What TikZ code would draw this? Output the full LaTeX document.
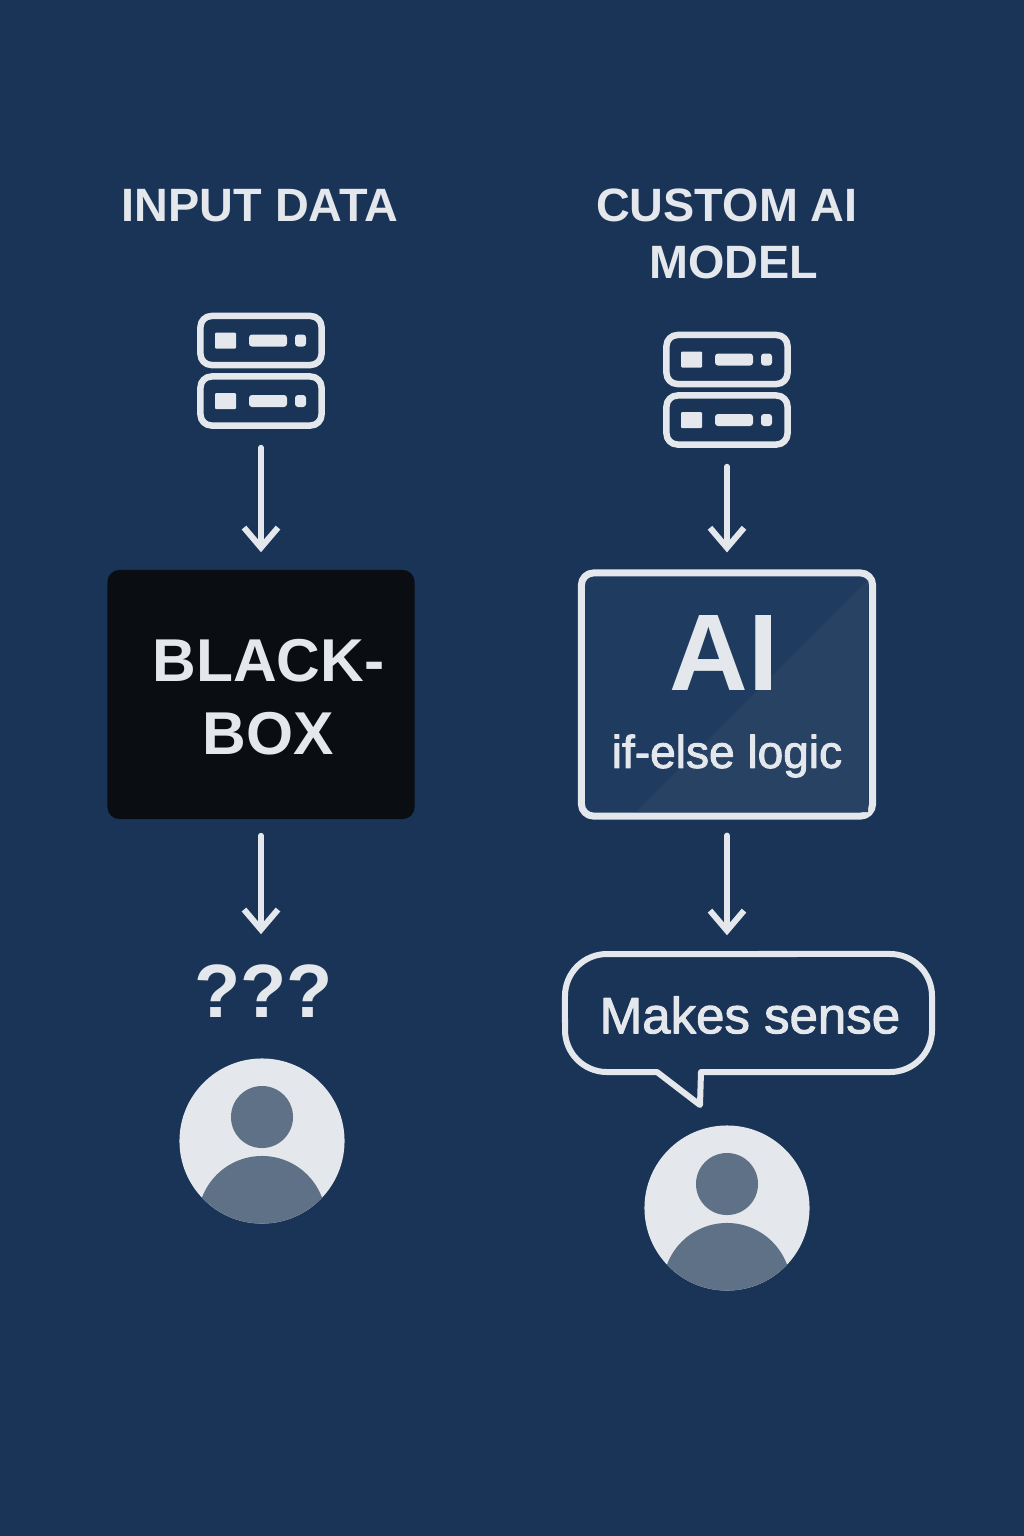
\documentclass[tikz,border=0pt]{standalone}
\usepackage{fontspec}
\setmainfont{Liberation Sans}
\newfontfamily\medfont[FakeBold=2]{Liberation Sans}
\usetikzlibrary{arrows.meta}
\definecolor{bgblue}{HTML}{193456}
\definecolor{lightgr}{HTML}{E4E7EB}
\definecolor{slategr}{HTML}{5F7186}
\definecolor{boxblack}{HTML}{0A0D11}
\definecolor{modelblue}{HTML}{1F3C60}
\definecolor{modeldiag}{HTML}{284263}
\tikzset{
	flow/.style={draw=lightgr,line width=.06cm,-{Straight Barb[length=.2cm,width=.34cm,line width=.06cm]},shorten <=.19cm,shorten >=.17cm},
	srvbox/.style={draw=lightgr,line width=.065cm,rounded corners=.11cm,minimum width=1.21cm,minimum height=.49cm,inner sep=0pt},
	title/.style={text=lightgr,align=center,font=\bfseries\fontsize{13.3}{16}\selectfont},
	pics/server/.style={code={
		\node[srvbox] (-top) at (0,-30.5) {};
		\node[srvbox] (-bot) at (0,30) {};
		\foreach \yy in {-30.5,30}{
			\fill[lightgr,rounded corners=.01cm] (-46,\yy-8) rectangle (-25,\yy+8);
			\fill[lightgr,rounded corners=.03cm] (-12,\yy-6) rectangle (26,\yy+6);
			\fill[lightgr,rounded corners=.03cm] (34,\yy-6) rectangle (45,\yy+6);
		}
	}},
	pics/avatar/.style={code={
		\node[circle,fill=lightgr,minimum size=1.65cm,inner sep=0pt] (-face) at (0,0) {};
		\fill[slategr] (0,-24) circle (.31cm);
		\begin{scope}
			\clip (0,0) circle (.825cm);
			\fill[slategr] (0,79) circle (.64cm);
		\end{scope}
	}}
}
\begin{document}
\begin{tikzpicture}[x=.01cm,y=-.01cm,line join=round,line cap=round]
	\fill[bgblue] (0,0) rectangle (1024,1536);
	\useasboundingbox (0,0) rectangle (1024,1536);
	% left column
	\node[title] (inputlbl) at (260,206) {INPUT DATA};
	\pic (srvA) at (261,371) {server};
	\node[fill=boxblack,rounded corners=.12cm,minimum width=3.07cm,minimum height=2.49cm,inner sep=0pt] (blackbox) at (261,694.5) {};
	\node[text=lightgr,align=center,font=\bfseries\fontsize{17.2}{20.8}\selectfont] (blacklbl) at (268.5,697) {BLACK-\\BOX};
	\node[text=lightgr,font=\bfseries\fontsize{21.5}{24}\selectfont] (qmarks) at (263.5,991) {???};
	\pic (userA) at (262,1141) {avatar};
	\draw[flow] (srvA-bot.south) -- (blackbox.north);
	\draw[flow,shorten <=.16cm,shorten >=.18cm] (blackbox.south) -- (blackbox.south |- qmarks.north);
	% right column
	\node[title] (customlbl) at (727,234) {CUSTOM AI\\\hspace*{.14cm}MODEL};
	\pic (srvB) at (727,390) {server};
	\node[draw=lightgr,fill=modelblue,line width=.07cm,rounded corners=.12cm,minimum width=2.91cm,minimum height=2.43cm,inner sep=0pt] (model) at (727,694.5) {};
	\fill[modeldiag] (868,580) -- (868,812) -- (636,812) -- cycle;
	\node[text=lightgr,font=\bfseries\fontsize{31}{34}\selectfont] (ailbl) at (724,653) {AI};
	\node[text=lightgr,font=\medfont\fontsize{13.1}{15}\selectfont] (logiclbl) at (727,756) {if-else logic};
	\draw[lightgr,line width=.06cm] (701,1072) -- (890,1072) arc (-90:0:.42cm) -- (932,996) arc (0:90:.42cm) -- (607,954) arc (90:180:.42cm) -- (565,1030) arc (180:270:.42cm) -- (657,1072) -- (700,1105) -- cycle;
	\node[text=lightgr,minimum width=3.67cm,minimum height=1.18cm,inner sep=0pt,font=\medfont\fontsize{14.5}{16}\selectfont] (bubble) at (750,1015) {Makes sense};
	\pic (userB) at (727,1208) {avatar};
	\draw[flow] (srvB-bot.south) -- (model.north);
	\draw[flow,shorten <=.16cm,shorten >=.2cm] (model.south) -- (model.south |- bubble.north);
\end{tikzpicture}
\end{document}
